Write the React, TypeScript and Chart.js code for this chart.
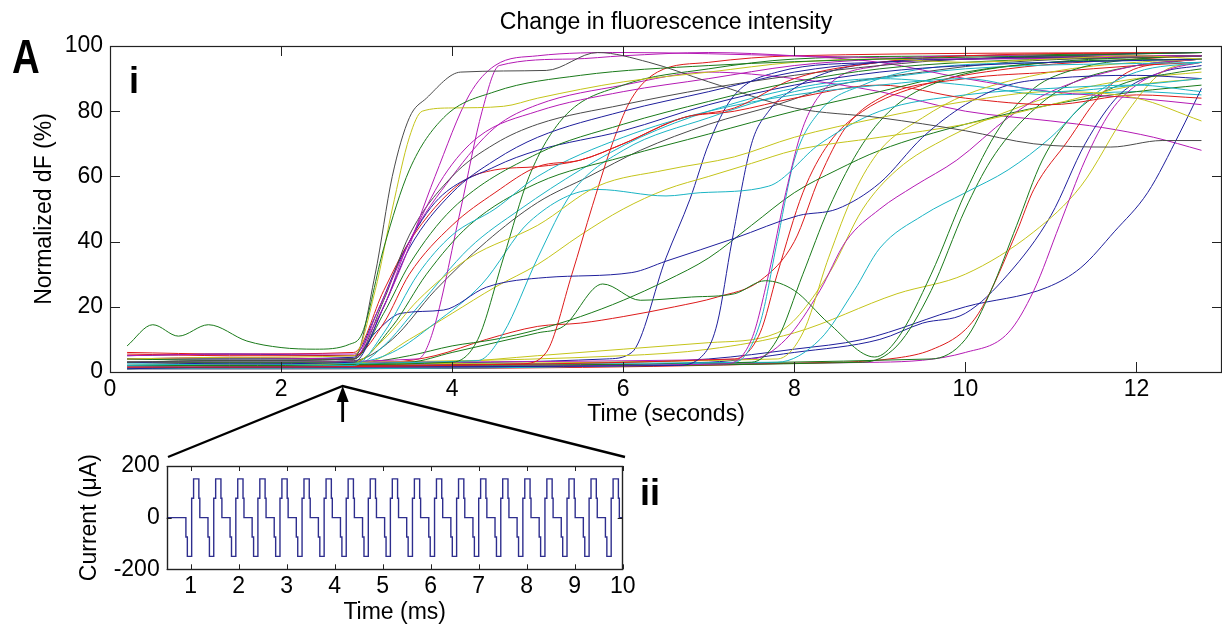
import React, { useEffect, useRef } from "react";
import { Chart, registerables } from "chart.js";
Chart.register(...registerables);

type P = [number, number];

const FONT = "'Liberation Sans', Arial, Helvetica, sans-serif";

// ---------- main panel (i) ----------
const chartTitle = "Change in fluorescence intensity";
const xTitle = "Time (seconds)";
const yTitle = "Normalized dF (%)";
const timeTicks = [0, 2, 4, 6, 8, 10, 12];
const dfTicks = [0, 20, 40, 60, 80, 100];
const timeRange = [0, 13];
const dfRange = [0, 100];
const stimulusTime = 2.72;

const B = "#1f1f9c";
const G = "#1a7a1a";
const R = "#dd1a1a";
const C = "#1ab4c4";
const M = "#b41ab4";
const Y = "#c4c41a";
const K = "#4a4a4a";

const tr01: P[] = [[0.2, 8], [0.5, 14.5], [0.8, 11], [1.15, 14.5], [1.6, 9.5], [2.0, 7.5], [2.4, 7], [2.8, 8.5], [2.95, 12], [3.2, 38], [3.5, 62], [3.9, 78], [4.5, 86], [5.5, 91], [7, 94], [9, 96], [11, 97], [12.76, 98]];
const tr02: P[] = [[0.2, 4], [1.4, 4.5], [2.85, 5], [3.1, 25], [3.3, 50], [3.5, 72], [3.65, 80], [4.0, 81], [4.6, 81.5], [5.0, 84], [6, 89], [7, 92], [8, 95], [9, 96], [10, 95], [11, 96], [12, 97], [12.76, 96]];
const tr03: P[] = [[0.2, 3], [1.4, 3.5], [2.85, 4], [3.1, 30], [3.3, 60], [3.5, 78], [3.7, 84], [4.1, 92], [5.1, 92.5], [5.7, 98], [6.3, 95], [7, 89], [8, 81], [9, 78], [10, 74], [10.8, 70], [11.7, 69], [12.3, 71], [12.76, 71]];
const tr04: P[] = [[0.2, 5], [1.4, 5.5], [2.85, 5.5], [3.1, 15], [3.4, 32], [3.8, 60], [4.2, 85], [4.5, 94], [5, 97], [6, 98], [8, 97], [10, 96], [12.76, 97]];
const tr05: P[] = [[0.2, 3], [1.4, 2.5], [2.85, 3], [3.2, 20], [3.5, 38], [4, 55], [4.5, 65], [5, 72], [6, 80], [7, 86], [8, 92], [9, 95], [10, 96], [11, 97], [12.76, 98]];
const tr06: P[] = [[0.2, 4], [1.4, 3.5], [2.85, 4], [3.2, 18], [3.5, 33], [4, 50], [5, 67], [6, 76], [7, 83], [8, 89], [9, 93], [10, 95], [11, 96], [12.76, 97]];
const tr07: P[] = [[0.2, 5.5], [1.4, 5], [2.85, 5], [3.2, 15], [3.5, 30], [4, 45], [4.5, 55], [5, 63], [5.5, 65], [6, 70], [6.7, 78], [7.3, 81], [8, 90], [9, 95], [10, 97], [12.76, 98]];
const tr08: P[] = [[0.2, 2], [1.4, 2.5], [2.85, 2], [3.2, 12], [3.6, 30], [4, 42], [4.5, 50], [5, 60], [6, 72], [7, 80], [8, 85], [9, 88], [10, 90], [11, 86], [12, 88], [12.76, 90]];
const tr09: P[] = [[0.2, 4], [1.4, 4.5], [2.85, 4], [3.15, 20], [3.5, 40], [3.9, 60], [4.3, 72], [5, 80], [6, 86], [7, 90], [8, 94], [9, 96], [10, 97], [12.76, 97]];
const tr10: P[] = [[0.2, 3], [1.4, 2.5], [2.85, 3], [3.2, 10], [3.6, 22], [4.2, 35], [5, 45], [5.7, 57], [6.5, 62], [7.3, 66], [8, 72], [9, 78], [10, 83], [11, 86], [12, 84], [12.76, 77]];
const tr11: P[] = [[0.2, 4], [1.4, 4], [2.85, 4], [3.2, 22], [3.5, 42], [4, 60], [4.5, 70], [5, 76], [6, 82], [7, 87], [8, 91], [9, 94], [10, 96], [12.76, 97]];
const tr12: P[] = [[0.2, 5], [1.4, 5.5], [2.85, 5], [3.1, 17], [3.4, 35], [3.8, 52], [4.5, 63], [5, 68], [6, 74], [7, 82], [8, 88], [9, 92], [10, 94], [12.76, 96]];
const tr13: P[] = [[0.2, 3], [1.4, 3], [2.85, 3], [3.3, 14], [3.7, 30], [4.2, 45], [5, 58], [6, 66], [7, 73], [8, 80], [9, 86], [10, 92], [11, 95], [12.76, 96]];
const tr14: P[] = [[0.2, 6], [1.4, 5.5], [2.85, 6], [3.2, 25], [3.5, 40], [4.1, 58], [4.5, 62], [5, 63], [5.5, 65], [6, 70], [6.7, 78], [7.3, 80], [8, 84], [9, 88], [10, 84], [11, 82], [12, 85], [12.76, 84]];
const tr15: P[] = [[0.2, 4], [1.4, 4], [2.85, 4.5], [3.1, 12], [3.4, 18], [3.9, 19], [4.4, 26], [5.1, 29], [6.1, 30.5], [6.5, 34], [7.3, 41], [8.05, 48], [8.5, 50], [9, 58], [9.5, 72], [10, 82], [10.5, 88], [11, 90], [12, 91], [12.76, 90]];
const tr16: P[] = [[0.2, 3], [1.4, 3], [3.6, 4], [3.77, 12], [4.1, 50], [4.35, 80], [4.55, 94], [5.4, 96], [6, 97], [7, 98], [8, 97], [9, 95], [10, 90], [11, 86], [12, 84], [12.76, 82]];
const tr17: P[] = [[0.2, 2], [1.4, 2], [4.0, 3], [4.3, 10], [4.6, 35], [4.9, 60], [5.3, 78], [6, 88], [7, 93], [8, 96], [10, 97], [12.76, 98]];
const tr18: P[] = [[0.2, 2], [1.4, 2.5], [4.3, 3.5], [4.6, 12], [5.0, 35], [5.4, 55], [6, 68], [7, 78], [8, 86], [9, 90], [10, 93], [12.76, 95]];
const tr19: P[] = [[0.2, 1.5], [1.4, 1.5], [4.8, 2.5], [5.1, 6], [5.4, 30], [5.64, 51], [5.9, 72], [6.1, 84], [6.4, 92], [7, 95], [8, 97], [12.76, 98]];
const tr20: P[] = [[0.2, 3], [1.4, 3], [2.85, 3], [3.3, 6], [3.8, 15], [4.35, 27], [4.9, 46], [5.7, 56], [6.5, 54], [6.9, 55], [7.7, 57], [8.3, 70], [9, 80], [10, 85], [11, 87], [12, 88], [12.76, 86]];
const tr21: P[] = [[0.2, 2], [1.4, 2], [3.0, 3], [3.5, 10], [4.0, 18], [4.5, 26], [5, 33], [5.5, 42], [6, 50], [6.5, 56], [7, 60], [7.5, 64], [8, 68], [9, 72], [10, 76], [11, 82], [12, 88], [12.76, 90]];
const tr22: P[] = [[0.2, 2], [1.4, 2], [3.5, 3], [4, 6], [4.5, 9], [5, 12], [5.3, 14], [5.76, 27], [6.2, 22], [6.8, 23], [7.3, 24], [7.66, 28], [8.0, 25], [8.4, 15], [8.94, 4.6], [9.2, 10], [9.6, 30], [10, 55], [10.4, 75], [10.8, 87], [11.3, 93], [12, 96], [12.76, 97]];
const tr23: P[] = [[0.2, 1], [1.4, 1.5], [6.6, 2], [6.96, 6], [7.1, 15], [7.27, 40], [7.5, 70], [7.7, 80], [8, 87], [8.4, 92], [9, 95], [10, 96], [12.76, 97]];
const tr24: P[] = [[0.2, 1.5], [1.4, 1.5], [7.2, 2.5], [7.5, 10], [7.7, 30], [7.9, 55], [8.1, 75], [8.4, 88], [9, 94], [10, 96], [12.76, 97]];
const tr25: P[] = [[0.2, 1], [1.4, 1], [7.3, 3], [7.6, 15], [7.8, 40], [8.0, 65], [8.3, 80], [8.8, 88], [9.5, 93], [11, 95], [12.76, 96]];
const tr26: P[] = [[0.2, 2], [1.4, 2], [7.3, 4], [7.6, 12], [7.8, 30], [8.1, 55], [8.4, 70], [8.8, 80], [9.5, 88], [10.5, 93], [12, 96], [12.76, 97]];
const tr27: P[] = [[0.2, 1], [1.4, 1.5], [7.5, 3], [7.8, 10], [8.1, 30], [8.4, 50], [8.8, 70], [9.2, 82], [9.8, 90], [11, 95], [12.76, 97]];
const tr28: P[] = [[0.2, 2], [1.4, 2.5], [7.8, 4], [8.1, 12], [8.4, 35], [8.7, 55], [9.0, 68], [9.5, 78], [10, 85], [11, 92], [12, 95], [12.76, 96]];
const tr29: P[] = [[0.2, 3], [1.4, 3], [7.5, 4], [7.9, 10], [8.3, 25], [8.6, 40], [9, 50], [9.4, 57], [9.9, 65], [10.5, 78], [11, 86], [12, 94], [12.76, 96]];
const tr30: P[] = [[0.2, 2.5], [1.4, 2.5], [7.8, 3], [8.3, 10], [8.7, 25], [9.0, 38], [9.5, 48], [10, 55], [10.5, 62], [11, 72], [11.5, 85], [12, 92], [12.76, 95]];
const tr31: P[] = [[0.2, 1.5], [1.4, 1.5], [8.8, 3], [9.2, 8], [9.6, 25], [10, 50], [10.3, 65], [10.7, 78], [11.2, 88], [12, 94], [12.76, 96]];
const tr32: P[] = [[0.2, 2], [1.4, 2], [9.6, 4], [10, 10], [10.3, 25], [10.6, 45], [10.9, 65], [11.3, 80], [11.8, 88], [12.5, 92], [12.76, 93]];
const tr33: P[] = [[0.2, 1], [1.4, 1], [8, 2.7], [9.2, 4.3], [9.6, 6.8], [10, 13], [10.2, 20], [10.6, 43], [10.8, 56], [11.2, 71], [11.55, 84], [11.9, 92], [12.4, 95], [12.76, 96]];
const tr34: P[] = [[0.2, 2], [1.4, 2], [9, 3], [10, 6], [10.5, 12], [10.8, 25], [11.1, 45], [11.4, 65], [11.7, 80], [12, 88], [12.4, 93], [12.76, 95]];
const tr35: P[] = [[0.2, 3], [1.4, 3], [6, 5], [7, 7], [8, 12], [9.2, 24], [10, 30], [10.8, 43], [11.35, 57], [11.9, 80], [12.3, 92], [12.76, 95]];
const tr36: P[] = [[0.2, 2], [1.4, 2], [6, 3], [7, 4], [8, 7], [8.8, 10], [10, 20], [10.96, 26], [11.35, 32], [11.74, 43], [12.13, 55], [12.5, 73], [12.76, 87]];
const tr37: P[] = [[0.2, 1], [1.4, 1], [7, 3], [8, 6], [9, 10], [9.5, 15], [10, 18], [10.5, 30], [11, 48], [11.4, 70], [11.8, 85], [12.3, 92], [12.76, 94]];
const tr38: P[] = [[0.2, 2], [1.4, 2], [3, 3], [3.5, 5], [4, 8], [4.5, 10], [5, 13], [5.5, 17], [6, 22], [6.5, 28], [7, 35], [7.5, 45], [8, 55], [8.5, 62], [9, 68], [10, 76], [11, 82], [12, 86], [12.76, 88]];
const tr39: P[] = [[0.2, 3], [1.4, 3.5], [2.85, 4], [3.2, 20], [3.5, 40], [4, 60], [4.5, 75], [5, 82], [6, 88], [7, 92], [8, 90], [9, 86], [10, 80], [11, 77], [11.6, 75], [12.2, 72], [12.76, 68]];
const tr40: P[] = [[0.2, 2], [1.4, 2], [3.3, 3], [3.8, 5], [4.4, 10], [5, 14], [5.5, 15], [6, 17], [6.6, 20], [7.1, 23], [7.6, 28], [8, 40], [8.3, 60], [8.6, 75], [9, 84], [10, 90], [11, 92], [12, 94], [12.76, 95]];
const tr41: P[] = [[0.2, 1.5], [1.4, 2], [2.85, 2], [3.2, 8], [3.6, 20], [4.2, 38], [4.8, 50], [5.5, 62], [6.2, 72], [7, 80], [8, 87], [9, 90], [10, 88], [11, 85], [12, 86], [12.76, 85]];
const tr42: P[] = [[0.2, 1.5], [1.4, 1.5], [4, 3], [5, 5], [6, 7], [7, 9], [7.8, 12], [8.4, 30], [8.8, 50], [9.2, 62], [9.8, 72], [10.5, 80], [11.2, 86], [12, 90], [12.76, 92]];
const tr43: P[] = [[0.2, 3], [1.4, 3], [2.85, 3.5], [3.3, 10], [3.8, 25], [4.4, 40], [5, 52], [5.6, 60], [6.2, 68], [7, 76], [7.8, 82], [8.5, 88], [9.5, 92], [10.5, 95], [12.76, 97]];
const tr44: P[] = [[0.2, 2], [1.4, 2], [4.5, 3], [5.8, 4], [6.1, 6], [6.5, 35], [6.78, 53], [7.0, 70], [7.27, 84], [7.8, 92], [9, 95], [12.76, 97]];

const traceList: P[][] = [tr01, tr02, tr03, tr04, tr05, tr06, tr07, tr08, tr09, tr10, tr11, tr12, tr13, tr14, tr15, tr16, tr17, tr18, tr19, tr20, tr21, tr22, tr23, tr24, tr25, tr26, tr27, tr28, tr29, tr30, tr31, tr32, tr33, tr34, tr35, tr36, tr37, tr38, tr39, tr40, tr41, tr42, tr43, tr44];
const traceColors: string[] = [G, Y, K, M, B, G, R, C, M, Y, K, B, G, R, B, M, G, C, R, C, Y, G, B, M, C, R, G, Y, M, C, G, G, R, M, Y, B, B, G, M, R, C, Y, K, B];

// ---------- inset panel (ii) ----------
const insetXTitle = "Time (ms)";
const insetYTitle = "Current (\u03bcA)";
const msTicks = [1, 2, 3, 4, 5, 6, 7, 8, 9, 10];
const currentTicks = [-200, 0, 200];
const msRange = [0.5, 10];
const currentRange = [-200, 200];
const pulseStarts = [0.9, 1.36, 1.82, 2.28, 2.74, 3.2, 3.66, 4.12, 4.58, 5.04, 5.5, 5.96, 6.42, 6.88, 7.34, 7.8, 8.26, 8.72, 9.18, 9.64];
const pulseOffsets = [0, 0.03, 0.12, 0.16, 0.27, 0.29];
const pulseLevels = [-75, -150, 75, 150, 75, 0];

const framePlugin = {
  id: "frameTicks",
  afterDatasetsDraw(chart: any, _args: any, opts: any) {
    const { ctx, chartArea: a, scales } = chart;
    const len = opts.len ?? 10;
    ctx.save();
    ctx.strokeStyle = opts.color ?? "#222";
    ctx.lineWidth = 1;
    ctx.beginPath();
    for (const t of scales.x.ticks) {
      const px = Math.round(scales.x.getPixelForValue(t.value)) + 0.5;
      ctx.moveTo(px, a.bottom);
      ctx.lineTo(px, a.bottom - len);
      ctx.moveTo(px, a.top);
      ctx.lineTo(px, a.top + len);
    }
    for (const t of scales.y.ticks) {
      const py = Math.round(scales.y.getPixelForValue(t.value)) + 0.5;
      ctx.moveTo(a.left, py);
      ctx.lineTo(a.left + len, py);
      ctx.moveTo(a.right, py);
      ctx.lineTo(a.right - len, py);
    }
    ctx.stroke();
    ctx.lineWidth = opts.width ?? 1.2;
    ctx.strokeRect(Math.round(a.left) + 0.5, Math.round(a.top) + 0.5, Math.round(a.right - a.left) - 1, Math.round(a.bottom - a.top));
    ctx.restore();
  },
};

const zoomPlugin = {
  id: "zoomLines",
  afterDraw(chart: any, _args: any, opts: any) {
    const { ctx, chartArea: a, scales } = chart;
    const x = scales.x.getPixelForValue(opts.time);
    const tipY = a.bottom + 14;
    ctx.save();
    ctx.strokeStyle = "#000";
    ctx.fillStyle = "#000";
    ctx.lineWidth = 2.4;
    ctx.beginPath();
    ctx.moveTo(opts.leftEnd[0], opts.leftEnd[1]);
    ctx.lineTo(x, tipY);
    ctx.lineTo(opts.rightEnd[0], opts.rightEnd[1]);
    ctx.stroke();
    ctx.lineWidth = 2.8;
    ctx.beginPath();
    ctx.moveTo(x, tipY + 12);
    ctx.lineTo(x, tipY + 36);
    ctx.stroke();
    ctx.beginPath();
    ctx.moveTo(x, tipY);
    ctx.lineTo(x - 6, tipY + 16);
    ctx.lineTo(x + 6, tipY + 16);
    ctx.closePath();
    ctx.fill();
    ctx.restore();
  },
};

export default function App() {
  const mainRef = useRef<HTMLCanvasElement>(null);
  const insetRef = useRef<HTMLCanvasElement>(null);

  useEffect(() => {
    Chart.defaults.font.family = FONT;
    Chart.defaults.color = "#000";

    const datasets = traceList.map((tr, i) => ({
      data: tr.map(([x, y]) => ({ x, y })),
      borderColor: traceColors[i],
      borderWidth: 1,
      pointRadius: 0,
      fill: false,
      cubicInterpolationMode: "monotone" as const,
    }));

    const main = new Chart(mainRef.current!, {
      type: "line",
      data: { datasets },
      plugins: [framePlugin, zoomPlugin],
      options: {
        animation: false,
        responsive: false,
        devicePixelRatio: 1,
        events: [],
        layout: { padding: { top: 0, right: 0, bottom: 200, left: 0 } },
        plugins: {
          legend: { display: false },
          tooltip: { enabled: false },
          title: {
            display: true,
            fullSize: false,
            text: chartTitle,
            color: "#000",
            font: { family: FONT, size: 23, weight: "normal" },
            padding: { top: 9, bottom: 9.4 },
          },
          frameTicks: { len: 10, color: "#222", width: 1.2 },
          zoomLines: { time: stimulusTime, leftEnd: [168, 457], rightEnd: [625, 457] },
        } as any,
        scales: {
          x: {
            type: "linear",
            min: timeRange[0],
            max: timeRange[1],
            grid: { display: false, drawTicks: false },
            border: { display: false },
            ticks: { font: { size: 23 }, padding: 4, maxRotation: 0, color: "#000" },
            afterBuildTicks: (s: any) => {
              s.ticks = timeTicks.map((v) => ({ value: v }));
            },
            afterFit: (s: any) => {
              s.height = 59;
            },
            title: { display: true, text: xTitle, font: { size: 23 }, padding: { top: 0, bottom: 2.7 }, color: "#000" },
          },
          y: {
            min: dfRange[0],
            max: dfRange[1],
            grid: { display: false, drawTicks: false },
            border: { display: false },
            ticks: { font: { size: 23 }, padding: 7, color: "#000" },
            afterBuildTicks: (s: any) => {
              s.ticks = dfTicks.map((v) => ({ value: v }));
            },
            afterFit: (s: any) => {
              s.width = 110;
            },
            title: { display: true, text: yTitle, font: { size: 23 }, padding: { top: 31.2, bottom: 0 }, color: "#000" },
          },
        },
      },
    });

    const pulsePts: { x: number; y: number }[] = [{ x: msRange[0], y: 0 }];
    pulseStarts.forEach((s) => {
      pulseOffsets.forEach((o, j) => pulsePts.push({ x: +(s + o).toFixed(3), y: pulseLevels[j] }));
    });
    pulsePts.push({ x: msRange[1], y: 0 });

    const inset = new Chart(insetRef.current!, {
      type: "line",
      data: {
        datasets: [
          {
            data: pulsePts,
            borderColor: "#2e2e8e",
            borderWidth: 1.4,
            pointRadius: 0,
            stepped: "before",
            fill: false,
          },
        ],
      },
      plugins: [framePlugin],
      options: {
        animation: false,
        responsive: false,
        devicePixelRatio: 1,
        events: [],
        layout: { padding: { top: 26, right: 77.3, bottom: 0, left: 0 } },
        plugins: {
          legend: { display: false },
          tooltip: { enabled: false },
          title: { display: false },
          frameTicks: { len: 5, color: "#222", width: 1.4 },
        } as any,
        scales: {
          x: {
            type: "linear",
            min: msRange[0],
            max: msRange[1],
            grid: { display: false, drawTicks: false },
            border: { display: false },
            ticks: { font: { size: 23 }, padding: 4, maxRotation: 0, color: "#000" },
            afterBuildTicks: (s: any) => {
              s.ticks = msTicks.map((v) => ({ value: v }));
            },
            afterFit: (s: any) => {
              s.height = 61.7;
            },
            title: { display: true, text: insetXTitle, font: { size: 23 }, padding: { top: 0, bottom: 4.2 }, color: "#000" },
          },
          y: {
            min: currentRange[0],
            max: currentRange[1],
            grid: { display: false, drawTicks: false },
            border: { display: false },
            ticks: { font: { size: 23 }, padding: 7, color: "#000" },
            afterBuildTicks: (s: any) => {
              s.ticks = currentTicks.map((v) => ({ value: v }));
            },
            afterFit: (s: any) => {
              s.width = 166.7;
            },
            title: { display: true, text: insetYTitle, font: { size: 23 }, padding: { top: 76.2, bottom: 0 }, color: "#000" },
          },
        },
      },
    });

    return () => {
      main.destroy();
      inset.destroy();
    };
  }, []);

  return (
    <div style={{ position: "absolute", left: 0, top: 0, width: 1222, height: 631, background: "#fff", overflow: "hidden" }}>
      <canvas ref={mainRef} width={1222} height={631} style={{ position: "absolute", left: 0, top: 0 }} />
      <canvas ref={insetRef} width={700} height={191} style={{ position: "absolute", left: 0, top: 440 }} />
      <svg width={1222} height={631} style={{ position: "absolute", left: 0, top: 0, pointerEvents: "none" }}>
        <text transform="translate(12,73) scale(0.8,1)" fontFamily={FONT} fontWeight="bold" fontSize={48} fill="#000">A</text>
        <text x={129} y={93} fontFamily={FONT} fontWeight="bold" fontSize={36} fill="#000">i</text>
        <text x={640} y={505} fontFamily={FONT} fontWeight="bold" fontSize={36} fill="#000">ii</text>
      </svg>
    </div>
  );
}
